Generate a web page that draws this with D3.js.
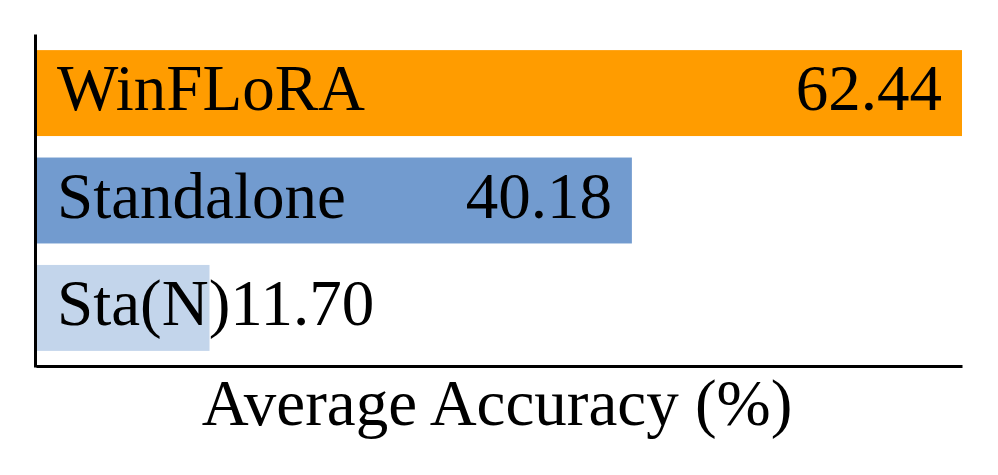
<!DOCTYPE html>
<html>
<head>
<meta charset="utf-8">
<script src="https://cdn.jsdelivr.net/npm/d3@7"></script>
<style>
  body { margin: 0; background: #fff; }
  svg { display: block; }
</style>
</head>
<body>
<div id="chart"></div>
<script>
var w = 998, h = 475;
var margin = {top: 34, right: 36, bottom: 109, left: 36};

// data
var methods = ["WinFLoRA", "Standalone", "Sta(N)"];
var accuracy = [62.44, 40.18, 11.70];
var colors = ["#ff9c00", "#729bcf", "#c3d5eb"];
var axisTitle = "Average Accuracy (%)";

var font = "'Liberation Serif', 'Times New Roman', serif";
var fsize = "65px";

var svg = d3.select("#chart")
    .append("svg")
    .attr("width", w)
    .attr("height", h);

var xScale = d3.scaleLinear()
    .domain([0, d3.max(accuracy)])
    .range([margin.left, w - margin.right]);

var yScale = d3.scaleBand()
    .domain(methods)
    .range([margin.top, h - margin.bottom + 1])
    .paddingInner(0.2)
    .paddingOuter(0.15);

var data = methods.map(function(m, i){ return {name: m, value: accuracy[i], color: colors[i]}; });

// bars
svg.selectAll("rect.bar")
   .data(data)
   .enter()
   .append("rect")
   .attr("class", "bar")
   .attr("x", xScale(0))
   .attr("y", function(d){ return yScale(d.name); })
   .attr("width", function(d){ return xScale(d.value) - xScale(0); })
   .attr("height", yScale.bandwidth())
   .style("fill", function(d){ return d.color; });

// method labels
var labels = svg.selectAll("text.name")
   .data(data)
   .enter()
   .append("text")
   .attr("class", "name")
   .attr("x", xScale(0) + 21)
   .attr("y", function(d){ return yScale(d.name) + yScale.bandwidth()/2 + 17; })
   .attr("font-family", font)
   .attr("font-size", fsize)
   .style("fill", "#000")
   .text(function(d){ return d.name; });

// value labels, right aligned inside bar unless it would hit the name
var labelEnds = [];
labels.each(function(){ labelEnds.push(this.getBBox().x + this.getComputedTextLength()); });

svg.selectAll("text.val")
   .data(data)
   .enter()
   .append("text")
   .attr("class", "val")
   .attr("y", function(d){ return yScale(d.name) + yScale.bandwidth()/2 + 17; })
   .attr("font-family", font)
   .attr("font-size", fsize)
   .attr("text-anchor", "end")
   .style("fill", "#000")
   .text(function(d){ return d.value.toFixed(2); })
   .attr("x", function(d, i){
      var tw = this.getComputedTextLength();
      return Math.max(xScale(d.value) - 20, labelEnds[i] + tw);
   });

// axes lines (no ticks)
svg.append("g")
   .attr("transform", "translate(0," + (h - margin.bottom) + ")")
   .call(d3.axisBottom(xScale).tickValues([]).tickSizeOuter(0))
   .select(".domain")
   .attr("stroke", "#000")
   .attr("stroke-width", 3);

svg.append("g")
   .attr("transform", "translate(" + (margin.left - 1) + ",0)")
   .call(d3.axisLeft(yScale).tickValues([]).tickSizeOuter(0))
   .select(".domain")
   .attr("stroke", "#000")
   .attr("stroke-width", 3);

// x axis title
svg.append("text")
   .attr("x", (xScale.range()[0] + xScale.range()[1]) / 2 - 2)
   .attr("y", 425)
   .attr("text-anchor", "middle")
   .attr("font-family", font)
   .attr("font-size", fsize)
   .style("fill", "#000")
   .text(axisTitle);
</script>
</body>
</html>
